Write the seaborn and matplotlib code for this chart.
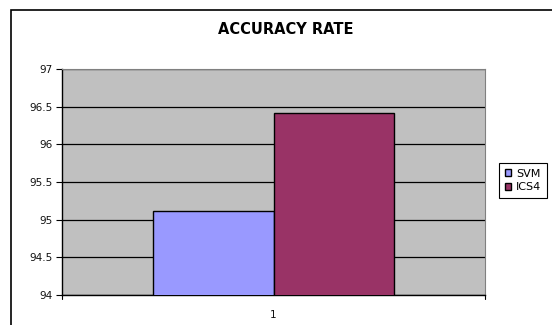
import matplotlib
matplotlib.use("Agg")
import matplotlib.pyplot as plt
import matplotlib.patches as mpatches
import pandas as pd
import seaborn as sns

categories = ["1"]
series = ["SVM", "ICS4"]
svm_values = [95.11]
ics4_values = [96.42]
y_ticks = [94, 94.5, 95, 95.5, 96, 96.5, 97]
colors = ["#9999FF", "#993366"]

df = pd.DataFrame({
    "category": categories * 2,
    "series": ["SVM"] * len(categories) + ["ICS4"] * len(categories),
    "value": svm_values + ics4_values,
})

sns.set_style("white")
plt.rcParams["font.family"] = ["DejaVu Sans"]
plt.rcParams["text.color"] = "black"

fig = plt.figure(figsize=(5.52, 3.25), dpi=100)
fig.patch.set_facecolor("white")

# outer chart frame
frame = mpatches.Rectangle((11 / 552, -0.1), 1.2, 1 - 10 / 325 + 0.1,
                           transform=fig.transFigure, fill=False,
                           edgecolor="black", linewidth=1.2, zorder=0)
fig.patches.append(frame)

ax = fig.add_axes([62 / 552, 30 / 325, (485 - 62) / 552, (295 - 69) / 325])
ax.set_facecolor("#C0C0C0")

sns.barplot(data=df, x="category", y="value", hue="series", hue_order=series,
            palette=colors, width=0.57, edgecolor="black", linewidth=1.0,
            saturation=1, ax=ax, legend=True, zorder=3)

ax.set_ylim(94, 97)
ax.set_xlim(-0.5, 0.5)
ax.set_yticks(y_ticks)
ax.set_yticklabels([f"{t:g}" for t in y_ticks], fontsize=7.5)
ax.yaxis.grid(True, color="black", linewidth=0.9, zorder=1)
ax.set_axisbelow(True)
ax.set_xlabel("")
ax.set_ylabel("")

ax.tick_params(axis="y", which="both", left=True, length=4, width=0.8,
               color="black", pad=3, labelcolor="#111111")
ax.set_xticks([0])
ax.set_xticklabels(categories, fontsize=7.5)
ax.tick_params(axis="x", bottom=False, pad=7, labelcolor="#111111")
# category-boundary tick marks at the ends of the x axis
for xe in (-0.5, 0.5):
    ax.plot([xe, xe], [0, -0.018], transform=ax.get_xaxis_transform(),
            color="black", linewidth=0.8, clip_on=False)

for side in ("top", "right"):
    ax.spines[side].set_color("#808080")
    ax.spines[side].set_linewidth(0.8)
for side in ("left", "bottom"):
    ax.spines[side].set_color("black")
    ax.spines[side].set_linewidth(1.0)

fig.text(286 / 552, 1 - 29 / 325, "ACCURACY RATE", ha="center", va="center",
         fontsize=10.5, fontweight="bold", color="black")

handles, labels = ax.get_legend_handles_labels()
ax.legend_.remove()
leg = fig.legend(handles, labels, loc="upper left",
                 bbox_to_anchor=(499 / 552, 1 - 163 / 325),
                 frameon=True, fancybox=False, framealpha=1,
                 edgecolor="black", fontsize=8, handlelength=0.55,
                 handleheight=0.55, handletextpad=0.5, borderpad=0.5,
                 labelspacing=0.35, borderaxespad=0)
leg.get_frame().set_linewidth(0.8)
for t in leg.get_texts():
    t.set_color("black")

fig.savefig("out.png", dpi=100)
